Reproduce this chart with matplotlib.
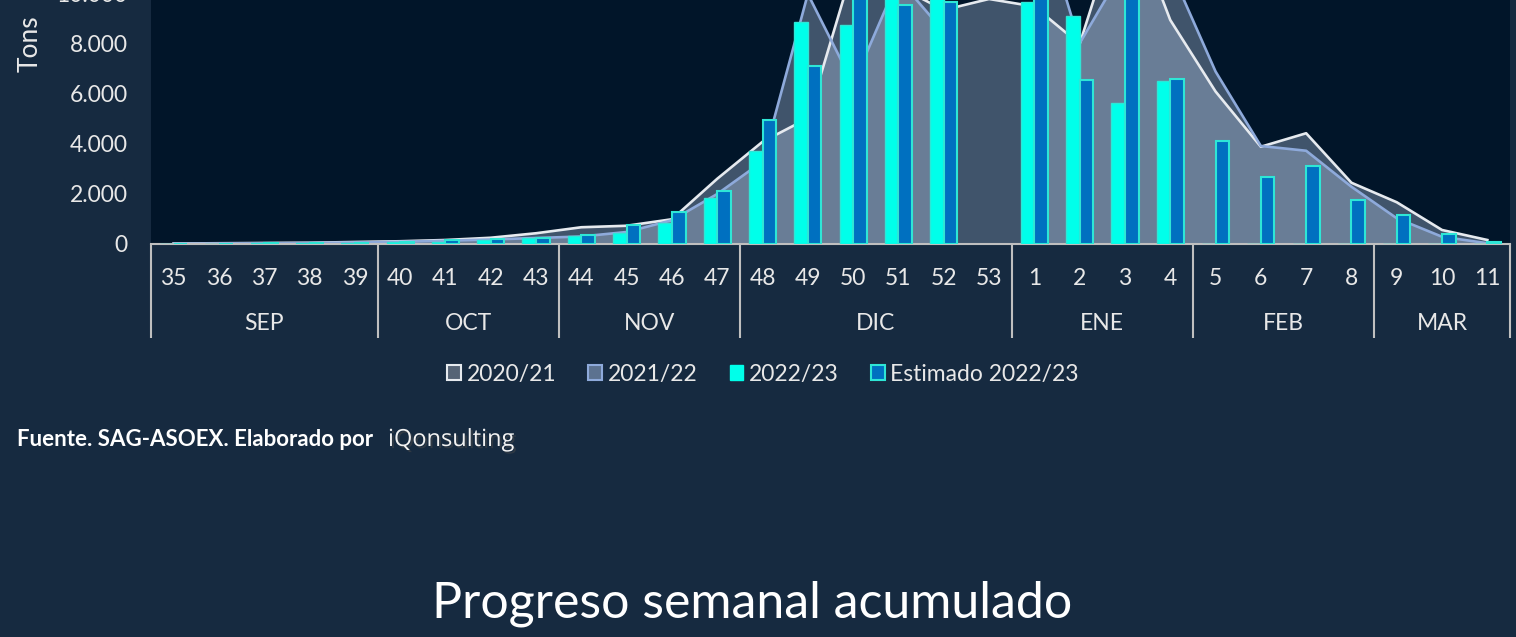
import matplotlib
matplotlib.use("Agg")
import matplotlib.pyplot as plt
import matplotlib.patches as mpatches
import matplotlib.patheffects as pe
import matplotlib.transforms as mtransforms
import matplotlib.ticker as mticker
import numpy as np

# --- data (tons per week) ---
weeks = ["35", "36", "37", "38", "39", "40", "41", "42", "43", "44", "45", "46",
         "47", "48", "49", "50", "51", "52", "53", "1", "2", "3", "4", "5", "6",
         "7", "8", "9", "10", "11"]
months = ["SEP", "OCT", "NOV", "DIC", "ENE", "FEB", "MAR"]
weeks_per_month = [5, 4, 4, 6, 4, 4, 3]

nan = np.nan
tons_2021 = [20, 30, 40, 50, 80, 110, 160, 250, 430, 670, 730, 990, 2610, 4090,
             5030, 11100, 10300, 9360, 9800, 9500, 8000, 13700, 8960, 6100, 3890,
             4430, 2450, 1670, 560, 160]
tons_2122 = [10, 20, 30, 40, 60, 90, 130, 180, 240, 300, 480, 950, 2000, 3300,
             10000, 6400, 10600, 8500, nan, 14000, 8030, 11100, 11000, 6900, 3920,
             3730, 2290, 1030, 290, 30]
tons_2223 = [20, 20, 30, 30, 40, 90, 90, 170, 230, 330, 450, 850, 1850, 3730,
             8880, 8770, 10100, 9900, nan, 9670, 9130, 5640, 6530, 0, 0, 0, 0, 0,
             0, 0]
tons_est = [20, 20, 30, 30, 40, 70, 160, 200, 250, 360, 760, 1270, 2130, 4960,
            7120, 10500, 9550, 9690, nan, 10600, 6560, 10800, 6600, 4120, 2680,
            3107, 1760, 1147, 387, 80]

# --- colours ---
BG = "#162a40"
PLOT_BG = "#011529"
AREA = "#b8cce7"
WHITE_LINE = "#e6eaef"
BLUE_LINE = "#8eaadb"
CYAN = "#00ffea"
EST = "#0070c0"
EDGE = "#2ee6d6"
AXIS = "#bfbfbf"
TEXT = "#e8e8e8"

plt.rcParams["font.family"] = ["Lato", "DejaVu Sans"]

W, H = 1516, 637
fig = plt.figure(figsize=(W / 100, H / 100), dpi=100, facecolor=BG)
ax = fig.add_axes([151 / W, (H - 244) / H, 1359 / W, 400 / H])
ax.set_facecolor(PLOT_BG)

x = np.arange(len(weeks))

# areas for past seasons
ax.fill_between(x, tons_2021, color=AREA, alpha=0.35, lw=0, zorder=1)
ax.fill_between(x, tons_2122, color=AREA, alpha=0.35, lw=0, zorder=1)
ax.plot(x, tons_2021, color=WHITE_LINE, lw=1.9, zorder=2)
ax.plot(x, tons_2122, color=BLUE_LINE, lw=1.9, zorder=2)

# bars for the current season
bw = 0.3
ax.bar(x - bw / 2, tons_2223, width=bw, color=CYAN, edgecolor=EDGE, lw=1.0, zorder=3)
ax.bar(x + bw / 2, tons_est, width=bw, color=EST, edgecolor=EDGE, lw=1.5, zorder=3)

ax.set_xlim(-0.5, len(weeks) - 0.5)
ax.set_ylim(0, 16000)

for side in ["left", "right", "top"]:
    ax.spines[side].set_visible(False)
ax.spines["bottom"].set_color(AXIS)
ax.spines["bottom"].set_linewidth(1.5)

ax.yaxis.set_major_locator(mticker.MultipleLocator(2000))
ax.yaxis.set_major_formatter(
    mticker.FuncFormatter(lambda v, p: f"{int(v):,}".replace(",", ".")))
ax.tick_params(axis="y", length=0, pad=17, labelsize=16.5, labelcolor=TEXT)
ax.set_ylabel("Tons", fontsize=19, color=TEXT)
ax.yaxis.set_label_coords(-0.08, 0.5)

ax.set_xticks(x)
ax.set_xticklabels(weeks)
ax.tick_params(axis="x", length=0, pad=17, labelsize=16.5, labelcolor=TEXT)

# month groups below the week labels
trans = mtransforms.blended_transform_factory(ax.transData, ax.transAxes)
edges = np.concatenate([[0], np.cumsum(weeks_per_month)]) - 0.5
ax.vlines(edges, -0.235, 0, transform=trans, color=AXIS, lw=1.5, clip_on=False)
for m, a, b in zip(months, edges[:-1], edges[1:]):
    ax.text((a + b) / 2, -0.2, m, transform=trans, ha="center", va="center",
            fontsize=16.5, color=TEXT)

handles = [
    mpatches.Patch(facecolor="#566476", edgecolor=WHITE_LINE, lw=1.5, label="2020/21"),
    mpatches.Patch(facecolor="#5c7290", edgecolor=BLUE_LINE, lw=1.5, label="2021/22"),
    mpatches.Patch(facecolor=CYAN, edgecolor=CYAN, lw=1.0, label="2022/23"),
    mpatches.Patch(facecolor=EST, edgecolor=EDGE, lw=1.5, label="Estimado 2022/23"),
]
fig.legend(handles=handles, loc="center", bbox_to_anchor=(763 / W, 1 - 374 / H),
           ncol=4, frameon=False, fontsize=16.5, labelcolor=TEXT,
           handlelength=0.6, handleheight=0.6, handletextpad=0.25,
           columnspacing=1.4)

fig.text(17 / W, 1 - 440 / H, "Fuente. SAG-ASOEX. Elaborado por", fontsize=16,
         weight="bold", color="white", va="center", ha="left")
fig.text(388 / W, 1 - 440 / H, "iQonsulting", fontsize=17, color="#f2f2f2",
         va="center", ha="left", family=["Open Sans", "DejaVu Sans"],
         path_effects=[pe.SimplePatchShadow(offset=(1.5, -1.5), alpha=0.5),
                       pe.Normal()])

fig.text(752 / W, 1 - 604 / H, "Progreso semanal acumulado", fontsize=36,
         color="white", ha="center", va="center")

fig.savefig("out.png", dpi=100, facecolor=BG)
